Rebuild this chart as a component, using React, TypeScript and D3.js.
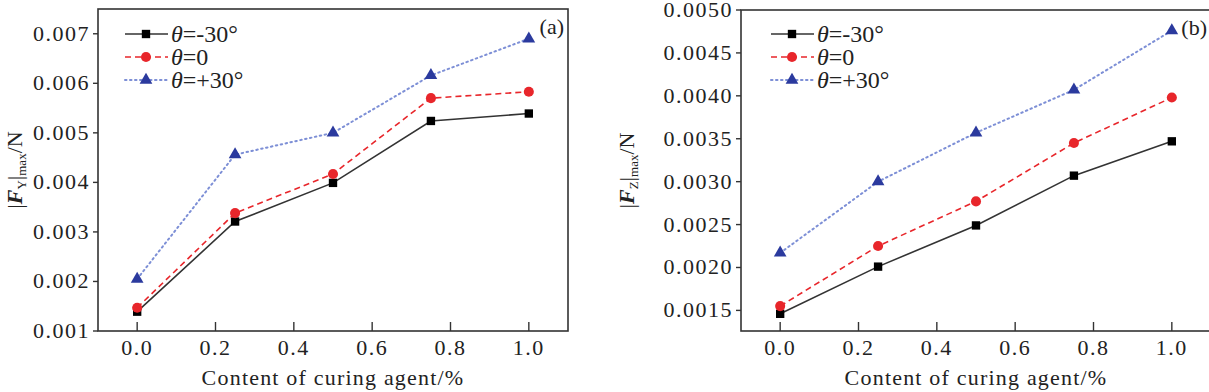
import { useEffect, useRef } from 'react';
import * as d3 from 'd3';

const content = [0, 0.25, 0.5, 0.75, 1.0];
const xTicks = [0, 0.2, 0.4, 0.6, 0.8, 1.0];

const fyMinus30 = [0.00139, 0.00321, 0.00399, 0.00524, 0.00539];
const fyZero = [0.00147, 0.00338, 0.00417, 0.0057, 0.00583];
const fyPlus30 = [0.00205, 0.00456, 0.005, 0.00616, 0.0069];

const fzMinus30 = [0.00146, 0.00201, 0.00249, 0.00307, 0.00347];
const fzZero = [0.00155, 0.00225, 0.00277, 0.00345, 0.00398];
const fzPlus30 = [0.00217, 0.003, 0.00357, 0.00407, 0.00476];

const fyTicks = [0.001, 0.002, 0.003, 0.004, 0.005, 0.006, 0.007];
const fzTicks = [0.0015, 0.002, 0.0025, 0.003, 0.0035, 0.004, 0.0045, 0.005];

const legendLabels = ['-30°', '0', '+30°'];

const FONT = '"Liberation Serif", "DejaVu Serif", serif';

type Panel = {
	left: number;
	right: number;
	top: number;
	bottom: number;
	yDomain: [number, number];
	yTicks: number[];
	yFormat: string;
	series: number[][];
	sub: string;
	tag: string;
	labelX: number;
	legendX: number;
};

const panels: Panel[] = [
	{
		left: 98, right: 568, top: 9, bottom: 331,
		yDomain: [0.001, 0.0075], yTicks: fyTicks, yFormat: '.3f',
		series: [fyMinus30, fyZero, fyPlus30], sub: 'Y', tag: '(a)',
		labelX: 22, legendX: 125,
	},
	{
		left: 741, right: 1211, top: 10, bottom: 331,
		yDomain: [0.00126, 0.005], yTicks: fzTicks, yFormat: '.4f',
		series: [fzMinus30, fzZero, fzPlus30], sub: 'Z', tag: '(b)',
		labelX: 634, legendX: 771,
	},
];

const styles = [
	{ line: '#333333', fill: '#000000', dash: null, shape: d3.symbolSquare, size: 70 },
	{ line: '#e8262b', fill: '#e8262b', dash: '6,4', shape: d3.symbolCircle, size: 80 },
	{ line: '#7d8fd6', fill: '#2b3a9e', dash: '1.5,3.5', shape: d3.symbolTriangle, size: 70 },
];

export default function App() {
	const svgRef = useRef<SVGSVGElement>(null);

	useEffect(() => {
		const svg = d3.select(svgRef.current);
		svg.selectAll('*').remove();

		panels.forEach(p => {
			const g = svg.append('g');
			const x = d3.scaleLinear().domain([-0.1, 1.1]).range([p.left, p.right]);
			const y = d3.scaleLinear().domain(p.yDomain).range([p.bottom, p.top]);

			// frame
			g.append('rect')
				.attr('x', p.left).attr('y', p.top)
				.attr('width', p.right - p.left).attr('height', p.bottom - p.top)
				.attr('fill', 'none').attr('stroke', '#333').attr('stroke-width', 1.6);

			// x ticks (inward)
			g.selectAll('.xt').data(xTicks).join('line')
				.attr('x1', d => x(d)).attr('x2', d => x(d))
				.attr('y1', p.bottom).attr('y2', p.bottom - 9)
				.attr('stroke', '#333').attr('stroke-width', 1.4);
			g.selectAll('.xl').data(xTicks).join('text')
				.attr('x', d => x(d)).attr('y', p.bottom + 24)
				.attr('text-anchor', 'middle')
				.attr('font-family', FONT).attr('font-size', 22)
				.attr('letter-spacing', 1.5)
				.attr('fill', '#222')
				.text(d => d3.format('.1f')(d));

			// y ticks (outward)
			g.selectAll('.yt').data(p.yTicks).join('line')
				.attr('x1', p.left).attr('x2', p.left - 5)
				.attr('y1', d => y(d)).attr('y2', d => y(d))
				.attr('stroke', '#333').attr('stroke-width', 1.4);
			g.selectAll('.yl').data(p.yTicks).join('text')
				.attr('x', p.left - 8).attr('y', d => y(d) + 7)
				.attr('text-anchor', 'end')
				.attr('font-family', FONT).attr('font-size', 22)
				.attr('letter-spacing', 1.5)
				.attr('fill', '#222')
				.text(d => d3.format(p.yFormat)(d));

			// x title
			g.append('text')
				.attr('x', (x(0) + x(1)) / 2).attr('y', p.bottom + 54)
				.attr('text-anchor', 'middle')
				.attr('font-family', FONT).attr('font-size', 22)
				.attr('letter-spacing', 1.2)
				.attr('fill', '#222')
				.text('Content of curing agent/%');

			// y title
			const yt = g.append('text')
				.attr('transform', `translate(${p.labelX},${(p.top + p.bottom) / 2}) rotate(-90)`)
				.attr('text-anchor', 'middle')
				.attr('font-family', FONT).attr('font-size', 22)
				.attr('fill', '#222');
			yt.append('tspan').text('|');
			yt.append('tspan').attr('font-style', 'italic').attr('font-weight', 'bold').text('F');
			yt.append('tspan').attr('font-size', 13).attr('dy', 4).text(p.sub);
			yt.append('tspan').attr('dy', -4).text('|');
			yt.append('tspan').attr('font-size', 13).attr('dy', 4).text('max');
			yt.append('tspan').attr('dy', -4).text('/N');

			// tag
			g.append('text')
				.attr('x', p.right - 4).attr('y', p.top + 25)
				.attr('text-anchor', 'end')
				.attr('font-family', FONT).attr('font-size', 22)
				.attr('fill', '#222')
				.text(p.tag);

			// series
			p.series.forEach((vals, i) => {
				const st = styles[i];
				const pts = content.map((c, k) => [c, vals[k]] as [number, number]);
				const line = d3.line<[number, number]>().x(d => x(d[0])).y(d => y(d[1]));
				g.append('path')
					.attr('d', line(pts))
					.attr('fill', 'none')
					.attr('stroke', st.line)
					.attr('stroke-width', i === 2 ? 2 : 1.6)
					.attr('stroke-dasharray', st.dash)
					.attr('stroke-linecap', i === 2 ? 'round' : 'butt');
				g.selectAll(`.m${i}`).data(pts).join('path')
					.attr('transform', d => `translate(${x(d[0])},${y(d[1])})`)
					.attr('d', d3.symbol().type(st.shape).size(st.size)())
					.attr('fill', st.fill);

				// legend entry
				const ly = 34 + i * 23;
				g.append('line')
					.attr('x1', p.legendX).attr('x2', p.legendX + 43)
					.attr('y1', ly).attr('y2', ly)
					.attr('stroke', st.line)
					.attr('stroke-width', i === 2 ? 2 : 1.6)
					.attr('stroke-dasharray', st.dash)
					.attr('stroke-linecap', i === 2 ? 'round' : 'butt');
				g.append('path')
					.attr('transform', `translate(${p.legendX + 21},${ly})`)
					.attr('d', d3.symbol().type(st.shape).size(st.size)())
					.attr('fill', st.fill);
				const lt = g.append('text')
					.attr('x', p.legendX + 46).attr('y', ly + 8)
					.attr('font-family', FONT).attr('font-size', 24)
					.attr('fill', '#222');
				lt.append('tspan').attr('font-style', 'italic').text('θ');
				lt.append('tspan').text('=' + legendLabels[i]);
			});
		});
	}, []);

	return (
		<svg
			ref={svgRef}
			width={1209}
			height={392}
			style={{ position: 'absolute', left: 0, top: 0, background: '#fff' }}
		/>
	);
}
